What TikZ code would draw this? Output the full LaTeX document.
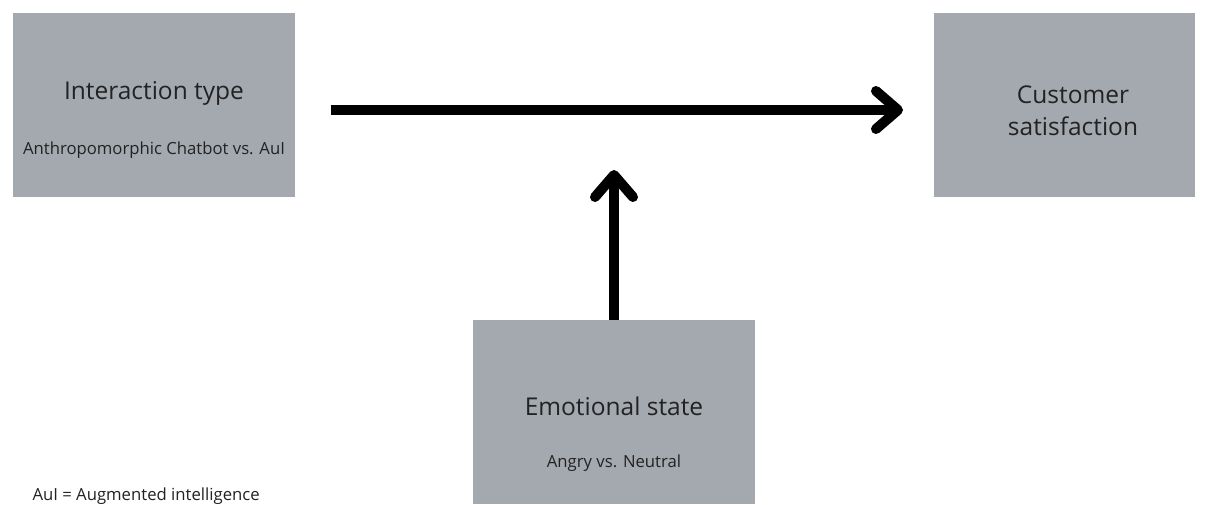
\documentclass[tikz,border=0pt]{standalone}
\usepackage{fontspec}
\setmainfont{Open Sans}
\usetikzlibrary{arrows.meta}
\definecolor{boxgray}{HTML}{A4A9B0}
\definecolor{txt}{HTML}{222222}
\begin{document}
\begin{tikzpicture}[x=1pt,y=1pt,
  varbox/.style={fill=boxgray, draw=none, minimum width=282pt, minimum height=184pt, inner sep=0pt},
  bigtxt/.style={font=\fontsize{24.5}{32}\selectfont, text=txt},
  smalltxt/.style={font=\fontsize{16.7}{20}\selectfont, text=txt},
  fat/.style={line width=10pt, -{Straight Barb[length=22pt,width=38pt,round]}}]
\useasboundingbox (0,0) rectangle (1208,-504);
\node[varbox] (it) at (154,-105) {};
\node[varbox, minimum width=261pt] (cs) at (1064.5,-105) {};
\node[varbox] (es) at (614,-412) {};
\node[bigtxt] (itt) at (154,-93) {Interaction type};
\node[smalltxt] (its) at (154,-150) {Anthropomorphic Chatbot vs. AuI};
\node[bigtxt, align=center] (cst) at (1073,-111) {Customer\\satisfaction};
\node[bigtxt] (est) at (614,-406) {Emotional state};
\node[smalltxt] (ess) at (614,-463) {Angry vs. Neutral};
\node[smalltxt, anchor=west] (note) at (29,-496) {AuI = Augmented intelligence};
\coordinate (hs) at (331,-110);
\coordinate (he) at (903,-110);
\coordinate (ve) at (614,-170);
\draw[fat] (hs) -- (he);
\draw[fat] (es.north) -- (ve);
\end{tikzpicture}
\end{document}
